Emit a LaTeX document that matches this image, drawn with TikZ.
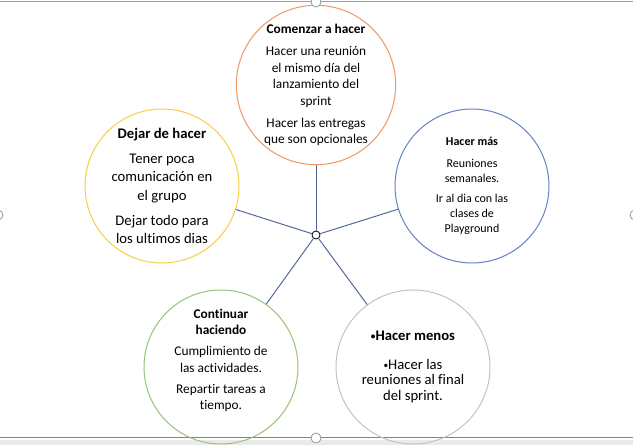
\documentclass[tikz,border=0pt]{standalone}
\usepackage{fontspec}
\setmainfont{Carlito}[Ligatures=NoCommon]
\newcommand{\smalldot}{{\fontsize{7}{7}\selectfont\raisebox{0.25ex}{•}}}
\tikzset{
  petal/.style={circle, draw, line width=0.75pt, minimum size=115.5pt, inner sep=0pt, align=center},
  spoke/.style={draw={rgb,255:red,84;green,104;blue,160}, line width=0.75pt},
  handle/.style={draw={rgb,255:red,150;green,150;blue,150}, fill=white, line width=0.6pt},
}
\begin{document}
\begin{tikzpicture}[x=0.75pt,y=0.75pt,yscale=-1,xscale=1]
\useasboundingbox (0,0) rectangle (633,445);

%Shape: Rectangle (frame)
\fill [color={rgb, 255:red, 234; green, 234; blue, 234 }] (0,440) rectangle (633,445);
\draw [color={rgb, 255:red, 160; green, 160; blue, 160 }, line width=0.75pt] (0,1.5) -- (633,1.5);
\draw [color={rgb, 255:red, 130; green, 130; blue, 130 }, line width=0.75pt] (0,438) -- (633,438);

%Shape: Circle [hub]
\node (hub) [circle, draw, fill=white, line width=0.6pt, minimum size=6pt, inner sep=0pt] at (316,235) {};

% Petals
\node (start) [petal, draw={rgb,255:red,237;green,150;blue,100}, font={\fontsize{10}{12.4}\selectfont}] at (316,85)
  {\textbf{Comenzar a hacer}\\[4pt]Hacer una reunión\\el mismo día del\\lanzamiento del\\sprint\\[4pt]Hacer las entregas\\que son opcionales};
\node (stop) [petal, draw={rgb,255:red,250;green,205;blue,70}, font={\fontsize{11}{13.7}\selectfont}] at (162,186)
  {\textbf{Dejar de hacer}\\[5pt]Tener poca\\comunicación en\\el grupo\\[5pt]Dejar todo para\\los ultimos dias};
\node (more) [petal, draw={rgb,255:red,100;green,130;blue,195}, font={\fontsize{9}{11.25}\selectfont}] at (472,186)
  {\textbf{Hacer más}\\[5pt]Reuniones\\semanales.\\[4pt]Ir al dia con las\\clases de\\Playground};
\node (keep) [petal, draw={rgb,255:red,150;green,195;blue,120}, font={\fontsize{10}{12.3}\selectfont}] at (221,367)
  {\textbf{Continuar}\\\textbf{haciendo}\\[3.5pt]Cumplimiento de\\las actividades.\\[3.5pt]Repartir tareas a\\tiempo.\\[-1pt]\mbox{}};
\node (less) [petal, draw={rgb,255:red,195;green,195;blue,195}, font={\fontsize{11}{11.5}\selectfont}] at (413,367)
  {\textbf{\smalldot Hacer menos}\\[10pt]\smalldot Hacer las\\reuniones al final\\del sprint.};

%Straight Lines
\foreach \p in {start,stop,more,keep,less}
  \draw [spoke] (hub) -- (\p);

%Shape: Circle [handles]
\draw [handle] (316,2) circle [radius=5];
\draw [handle] (316,438) circle [radius=5];
\draw [handle] (-2,215) circle [radius=5];
\draw [handle] (635,215) circle [radius=5];

\end{tikzpicture}
\end{document}
